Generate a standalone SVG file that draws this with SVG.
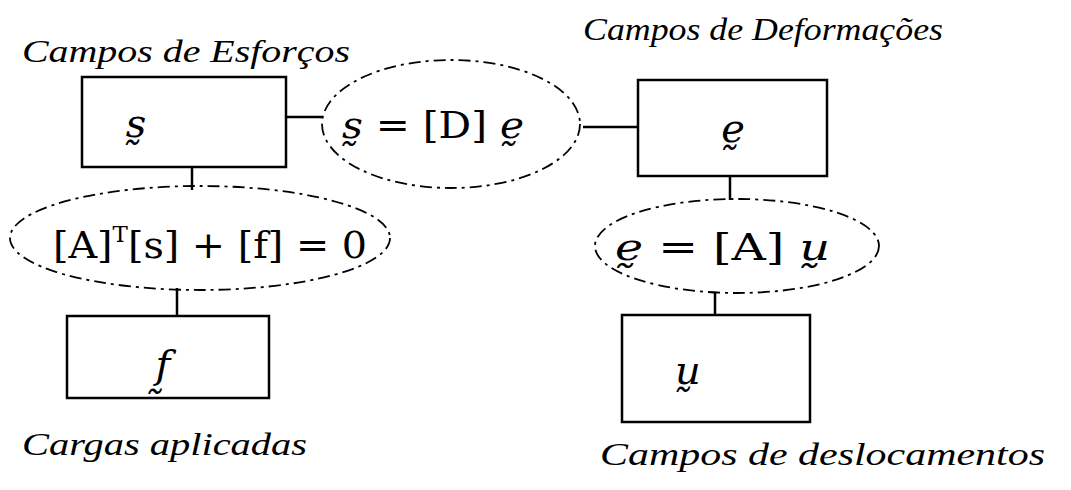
<svg xmlns="http://www.w3.org/2000/svg" width="1071" height="490" viewBox="0 0 1071 490">
<style>
.box{fill:none;stroke:#000;stroke-width:2.5}
.ell{fill:none;stroke:#000;stroke-width:1.8;stroke-dasharray:12 5 3 5}
.con{fill:none;stroke:#000;stroke-width:2.5}
.lbl{font-family:"Liberation Serif",serif;font-style:italic;font-size:31px;fill:#000}
.math{font-family:"DejaVu Serif","Liberation Serif",serif;font-size:38px;fill:#000}
.vec{font-family:"DejaVu Serif","Liberation Serif",serif;font-style:italic;font-size:40px;fill:#000}
</style>
<rect width="1071" height="490" fill="#fff"/>
<g id="connectors">
<line class="con" x1="286" y1="117" x2="322" y2="117"/>
<line class="con" x1="583" y1="127" x2="638" y2="127"/>
<line class="con" x1="192" y1="167" x2="192" y2="190"/>
<line class="con" x1="177" y1="288" x2="177" y2="316"/>
<line class="con" x1="730" y1="176" x2="730" y2="200"/>
<line class="con" x1="715" y1="292" x2="715" y2="315"/>
</g>
<g id="node-s">
<rect class="box" x="82" y="77" width="204" height="90"/>
<text class="vec" x="136" y="137" text-anchor="middle">s̰</text>
<text class="lbl" x="22" y="62" textLength="328" lengthAdjust="spacingAndGlyphs">Campos de Esforços</text>
</g>
<g id="eq-constitutive">
<ellipse class="ell" cx="451" cy="124" rx="129" ry="64"/>
<text class="math" x="342" y="138" textLength="182" lengthAdjust="spacingAndGlyphs"><tspan font-style="italic">s̰</tspan> = [D] <tspan font-style="italic">ḛ</tspan></text>
</g>
<g id="node-e">
<rect class="box" x="638" y="80" width="189" height="96"/>
<text class="vec" x="733" y="142" text-anchor="middle">ḛ</text>
<text class="lbl" x="583" y="40" textLength="360" lengthAdjust="spacingAndGlyphs">Campos de Deformações</text>
</g>
<g id="eq-equilibrium">
<ellipse class="ell" cx="200" cy="238" rx="190" ry="52"/>
<text class="math" x="53" y="258" textLength="314" lengthAdjust="spacingAndGlyphs">[A]<tspan font-size="22" dy="-16">T</tspan><tspan dy="16">[s] + [f] = 0</tspan></text>
</g>
<g id="node-f">
<rect class="box" x="67" y="316" width="202" height="82"/>
<text class="vec" x="163" y="378" text-anchor="middle">f̰</text>
<text class="lbl" x="22" y="455" textLength="285" lengthAdjust="spacingAndGlyphs">Cargas aplicadas</text>
</g>
<g id="eq-compatibility">
<ellipse class="ell" cx="737" cy="246" rx="142" ry="47"/>
<text class="math" x="615" y="260" textLength="215" lengthAdjust="spacingAndGlyphs"><tspan font-style="italic">ḛ</tspan> = [A] <tspan font-style="italic">ṵ</tspan></text>
</g>
<g id="node-u">
<rect class="box" x="622" y="315" width="188" height="107"/>
<text class="vec" x="688" y="384" text-anchor="middle">ṵ</text>
<text class="lbl" x="600" y="465" textLength="445" lengthAdjust="spacingAndGlyphs">Campos de deslocamentos</text>
</g>
</svg>
